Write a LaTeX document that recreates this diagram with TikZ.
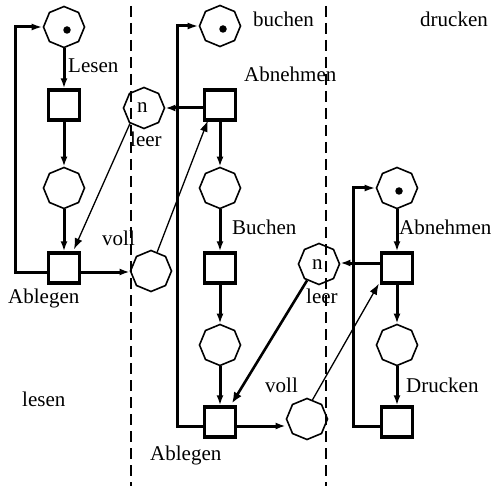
\documentclass[tikz,border=0pt]{standalone}
\usepackage{fontspec}
\setmainfont{Liberation Serif}
\usetikzlibrary{arrows.meta,shapes.geometric}
\begin{document}
\begin{tikzpicture}[x=1pt,y=-1pt,
  place/.style={draw,regular polygon,regular polygon sides=8,shape border rotate=22.5,
    minimum size=41pt,inner sep=0pt,line width=1.6pt},
  trans/.style={draw,rectangle,minimum width=31pt,minimum height=30pt,inner sep=0pt,line width=3.4pt},
  flow/.style={line width=3pt,-{Latex[length=10pt,width=7pt]}},
  loopflow/.style={line width=3pt,-{Latex[length=11pt,width=7pt]}},
  thinflow/.style={line width=1.3pt,-{Latex[length=11pt,width=8pt]}},
  midflow/.style={line width=2.6pt,-{Latex[length=11pt,width=9pt]}},
  lbl/.style={anchor=base west,inner sep=0pt,font=\fontsize{21}{24}\selectfont},
  token/.style={circle,fill,inner sep=0pt,minimum size=7.5pt},
  divider/.style={line width=2.5pt,dash pattern=on 11pt off 6pt}]
\useasboundingbox (0,0) rectangle (492,486);

% component boundaries
\coordinate (d1a) at (131,6);  \coordinate (d1b) at (131,486);
\coordinate (d2a) at (326,6);  \coordinate (d2b) at (326,486);
\draw[divider] (d1a) -- (d1b);
\draw[divider] (d2a) -- (d2b);

% column "lesen"
\node[place] (p11) at (64,27) {};
\node[token] (k11) at (67,30) {};
\node[trans] (t11) at (64,105) {};
\node[place] (p12) at (64,188) {};
\node[trans] (t12) at (64,268) {};

% buffer between lesen and buchen
\node[place] (leer1) at (144,108) {};
\node[place] (voll1) at (151,271) {};

% column "buchen"
\node[place] (p21) at (220,26) {};
\node[token] (k21) at (223,29) {};
\node[trans] (t21) at (220,105) {};
\node[place] (p22) at (220,188) {};
\node[trans] (t22) at (220,268) {};
\node[place] (p23) at (220,345) {};
\node[trans] (t23) at (220,422) {};

% buffer between buchen and drucken
\node[place] (leer2) at (319,264) {};
\node[place] (voll2) at (307,419) {};

% column "drucken"
\node[place] (p31) at (397,188) {};
\node[token] (k31) at (399,191) {};
\node[trans] (t31) at (397,268) {};
\node[place] (p32) at (397,345) {};
\node[trans] (t32) at (397,422) {};

% loop return columns
\coordinate (r1) at (15,0);
\coordinate (r2) at (177,0);
\coordinate (r3) at (353,0);

% arcs of "lesen"
\draw[flow] (p11) -- (t11);
\draw[flow] (t11) -- (p12);
\draw[flow] (p12) -- (t12);
\draw[loopflow] ([yshift=-4pt]t12.west) -- ([yshift=-4pt]t12.west -| r1) |- (p11.west);
\draw[flow] ([yshift=-4pt]t12.east) -- ([yshift=-4pt]t12.east -| voll1.west);

% arcs of "buchen"
\draw[flow] (t21) -- (p22);
\draw[flow] (p22) -- (t22);
\draw[flow] (t22) -- (p23);
\draw[flow] (p23) -- (t23);
\draw[loopflow] ([yshift=-4pt]t23.west) -- ([yshift=-4pt]t23.west -| r2) |- (p21.west);
\draw[flow] (t21.west |- leer1.east) -- (leer1.east);
\draw[flow] ([yshift=-4pt]t23.east) -- ([yshift=-4pt]t23.east -| voll2.west);

% arcs of "drucken"
\draw[flow] (p31) -- (t31);
\draw[flow] (t31) -- (p32);
\draw[flow] (p32) -- (t32);
\draw[loopflow] ([yshift=-4pt]t32.west) -- ([yshift=-4pt]t32.west -| r3) |- (p31.west);
\draw[flow] ([yshift=5pt]t31.west) -- ([yshift=5pt]t31.west -| leer2.east);

% buffer arcs
\draw[thinflow] (leer1.228) -- ([xshift=10pt,yshift=2pt]t12.north);
\draw[thinflow] (voll1.72) -- ([xshift=5pt,yshift=1pt]t21.south west);
\draw[midflow] (leer2.234) -- ([xshift=12pt,yshift=2pt]t23.north);
\draw[thinflow] (voll2.74) -- ([xshift=-1pt,yshift=1pt]t31.south west);

% inscriptions
\node[lbl] (n1) at (137,113) {n};
\node[lbl] (n2) at (312,269) {n};
\node[lbl] (lLesen) at (68,73) {Lesen};
\node[lbl] (lAbn2) at (244,82) {Abnehmen};
\node[lbl] (lbuchen) at (253,27) {buchen};
\node[lbl] (ldrucken) at (420,27) {drucken};
\node[lbl] (lleer1) at (130,147) {leer};
\node[lbl] (lvoll1) at (102,245) {voll};
\node[lbl] (lBuchen) at (232,235) {Buchen};
\node[lbl] (lAbl1) at (8,303) {Ablegen};
\node[lbl] (lAbn3) at (399,235) {Abnehmen};
\node[lbl] (lleer2) at (306,303) {leer};
\node[lbl] (lvoll2) at (265,392) {voll};
\node[lbl] (lDrucken) at (406,392) {Drucken};
\node[lbl] (llesen) at (22,406) {lesen};
\node[lbl] (lAbl2) at (150,460) {Ablegen};
\end{tikzpicture}
\end{document}
